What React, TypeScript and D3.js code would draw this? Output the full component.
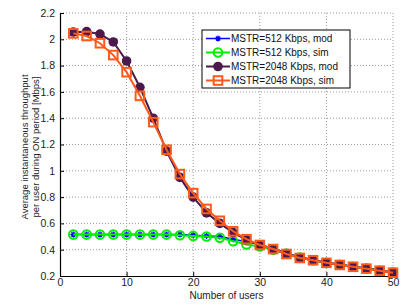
import React, { useEffect, useRef } from "react";
import * as d3 from "d3";

const users = [2, 4, 6, 8, 10, 12, 14, 16, 18, 20, 22, 24, 26, 28, 30, 32, 34, 36, 38, 40, 42, 44, 46, 48, 50];

const mod512 = [0.515, 0.515, 0.515, 0.515, 0.515, 0.515, 0.515, 0.515, 0.515, 0.51, 0.505, 0.5, 0.48, 0.46, 0.44, 0.41, 0.375, 0.345, 0.325, 0.305, 0.29, 0.275, 0.26, 0.245, 0.23];
const sim512 = [0.515, 0.515, 0.515, 0.515, 0.515, 0.515, 0.515, 0.515, 0.51, 0.505, 0.5, 0.49, 0.465, 0.44, 0.425, 0.4, 0.37, 0.34, 0.32, 0.3, 0.285, 0.27, 0.257, 0.242, 0.228];
const mod2048 = [2.055, 2.058, 2.04, 1.98, 1.835, 1.635, 1.4, 1.15, 0.95, 0.8, 0.68, 0.6, 0.53, 0.475, 0.435, 0.405, 0.368, 0.338, 0.32, 0.3, 0.284, 0.27, 0.256, 0.24, 0.225];
const sim2048 = [2.045, 2.025, 1.97, 1.88, 1.75, 1.57, 1.37, 1.16, 0.975, 0.83, 0.71, 0.62, 0.54, 0.48, 0.436, 0.405, 0.367, 0.337, 0.32, 0.3, 0.284, 0.27, 0.256, 0.24, 0.225];

const xTicks = [0, 10, 20, 30, 40, 50];
const yTicks = [0.2, 0.4, 0.6, 0.8, 1, 1.2, 1.4, 1.6, 1.8, 2, 2.2];

const legendLabels = ["MSTR=512 Kbps, mod", "MSTR=512 Kbps, sim", "MSTR=2048 Kbps, mod", "MSTR=2048 Kbps, sim"];

const App: React.FC = () => {
  const svgRef = useRef<SVGSVGElement | null>(null);

  useEffect(() => {
    if (!svgRef.current) return;
    const width = 408;
    const height = 306;
    const left = 60, right = 393, top = 13, bottom = 276;
    const font = "'Liberation Sans', Arial, Helvetica, sans-serif";

    const svg = d3.select(svgRef.current);
    svg.selectAll("*").remove();
    svg.attr("width", width).attr("height", height).style("font-family", font);
    svg.append("rect").attr("width", width).attr("height", height).attr("fill", "#fff");

    const x = d3.scaleLinear().domain([0, 50]).range([left, right]);
    const y = d3.scaleLinear().domain([0.2, 2.2]).range([bottom, top]);

    // grid
    const grid = svg.append("g").attr("stroke", "#999").attr("stroke-width", 1).attr("stroke-dasharray", "1,2");
    xTicks.slice(1).forEach((t) => {
      grid.append("line").attr("x1", x(t)).attr("x2", x(t)).attr("y1", top).attr("y2", bottom);
    });
    yTicks.slice(1).forEach((t) => {
      grid.append("line").attr("x1", left).attr("x2", right).attr("y1", y(t)).attr("y2", y(t));
    });

    // axes
    const xAxis = svg.append("g").attr("transform", `translate(0,${bottom})`)
      .call(d3.axisBottom(x).tickValues(xTicks).tickSizeInner(-4).tickSizeOuter(0).tickPadding(3));
    const yAxis = svg.append("g").attr("transform", `translate(${left},0)`)
      .call(d3.axisLeft(y).tickValues(yTicks).tickSizeInner(-4).tickSizeOuter(0).tickPadding(5).tickFormat((d) => d3.format("~g")(d as number)));
    [xAxis, yAxis].forEach((a) => {
      a.select(".domain").attr("stroke", "#000").attr("stroke-width", 1.2);
      a.selectAll(".tick line").attr("stroke", "#000");
      a.selectAll("text").attr("font-size", 10.5).attr("fill", "#222").style("font-family", font);
    });

    svg.append("text").attr("x", (left + right) / 2).attr("y", 299).attr("text-anchor", "middle")
      .attr("font-size", 10).attr("fill", "#222").text("Number of users");
    const yl = svg.append("text").attr("transform", `translate(28,147) rotate(-90)`)
      .attr("text-anchor", "middle").attr("font-size", 9.5).attr("fill", "#222");
    yl.append("tspan").attr("x", 0).attr("dy", 0).text("Average instantaneous throughput");
    yl.append("tspan").attr("x", 0).attr("dy", 11).text("per user during ON period [Mbps]");

    const line = d3.line<number>().x((_, i) => x(users[i])).y((d) => y(d));

    const series = [
      { values: mod512, color: "#0000ff", marker: "star", w: 1.5 },
      { values: sim512, color: "#00ee00", marker: "circle", w: 2 },
      { values: mod2048, color: "#4b1a4d", marker: "dot", w: 2 },
      { values: sim2048, color: "#ff5a1a", marker: "square", w: 2 },
    ];

    const drawMarker = (g: d3.Selection<SVGGElement, unknown, null, undefined>, cx: number, cy: number, s: typeof series[0]) => {
      if (s.marker === "star") {
        g.append("path").attr("d", `M${cx - 3},${cy}H${cx + 3}M${cx},${cy - 3}V${cy + 3}M${cx - 2},${cy - 2}L${cx + 2},${cy + 2}M${cx - 2},${cy + 2}L${cx + 2},${cy - 2}`)
          .attr("stroke", s.color).attr("stroke-width", 1.3).attr("fill", "none");
      } else if (s.marker === "circle") {
        g.append("circle").attr("cx", cx).attr("cy", cy).attr("r", 4.3).attr("fill", "none").attr("stroke", s.color).attr("stroke-width", 2);
      } else if (s.marker === "dot") {
        g.append("circle").attr("cx", cx).attr("cy", cy).attr("r", 4.8).attr("fill", s.color);
      } else {
        g.append("rect").attr("x", cx - 4.3).attr("y", cy - 4.3).attr("width", 8.6).attr("height", 8.6)
          .attr("fill", "none").attr("stroke", s.color).attr("stroke-width", 2);
      }
    };

    series.forEach((s) => {
      const g = svg.append("g");
      g.append("path").datum(s.values).attr("d", line).attr("fill", "none").attr("stroke", s.color).attr("stroke-width", s.w);
      s.values.forEach((v, i) => drawMarker(g, x(users[i]), y(v), s));
    });

    // legend
    const lg = svg.append("g");
    lg.append("rect").attr("x", 202).attr("y", 30).attr("width", 148).attr("height", 58)
      .attr("fill", "#fff").attr("stroke", "#000").attr("stroke-width", 1);
    series.forEach((s, i) => {
      const ly = 38.5 + i * 14;
      const g = lg.append("g");
      g.append("line").attr("x1", 206).attr("x2", 230).attr("y1", ly).attr("y2", ly).attr("stroke", s.color).attr("stroke-width", s.w);
      drawMarker(g, 218, ly, s);
      lg.append("text").attr("x", 231).attr("y", ly + 3.6).attr("font-size", 10).attr("fill", "#111").text(legendLabels[i]);
    });
  }, []);

  return <svg ref={svgRef} style={{ position: "absolute", left: 0, top: 0 }}></svg>;
};

export default App;
